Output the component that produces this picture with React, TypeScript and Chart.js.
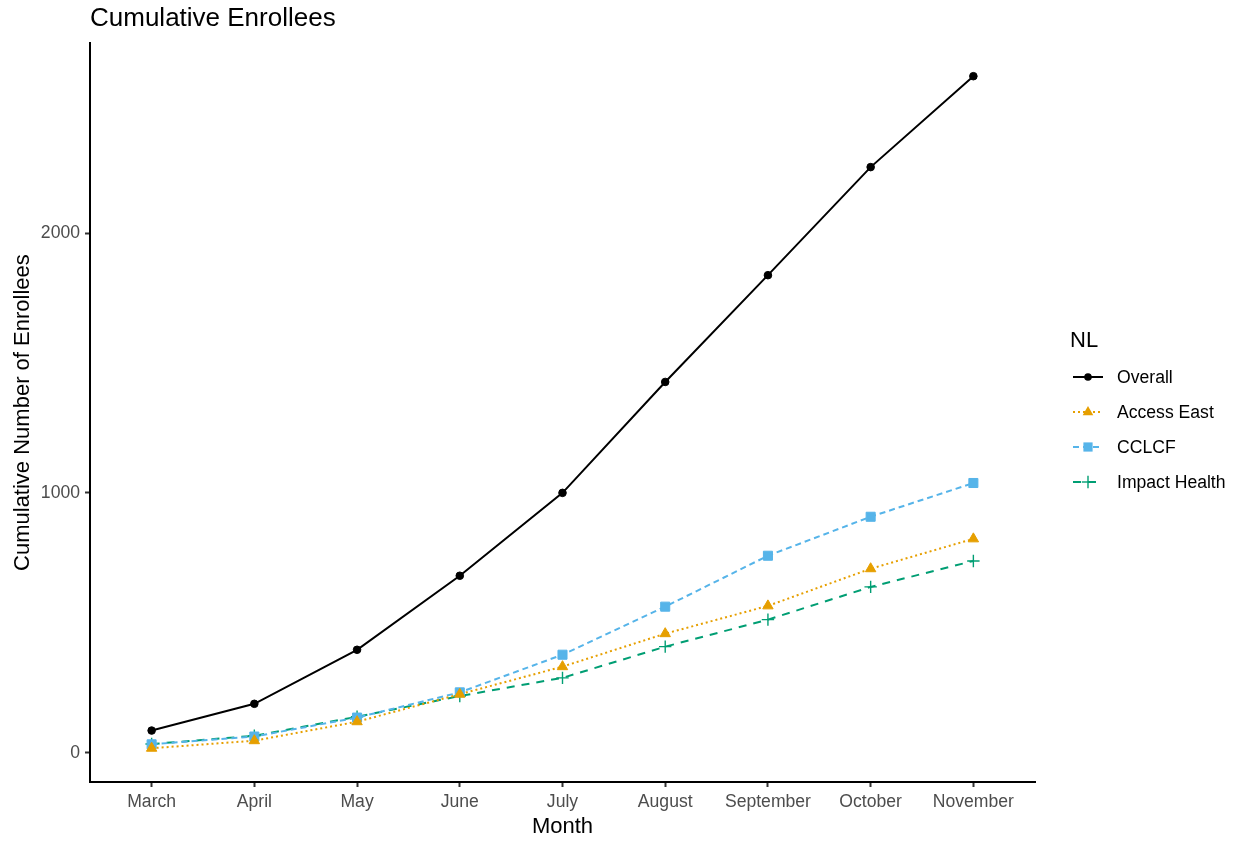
import React, { useEffect, useRef } from "react";
import { Chart, registerables } from "chart.js";

Chart.register(...registerables);

const months = ["March", "April", "May", "June", "July", "August", "September", "October", "November"];
const overall = [85, 188, 396, 681, 1000, 1427, 1838, 2254, 2604];
const accessEast = [17, 46, 119, 225, 331, 458, 565, 708, 823];
const cclcf = [32, 62, 135, 232, 377, 562, 758, 908, 1038];
const impactHealth = [33, 65, 138, 218, 288, 408, 512, 638, 738];
const yTicks = [0, 1000, 2000];

const FONT = "'Liberation Sans', Arial, Helvetica, sans-serif";

type SeriesDef = {
  label: string;
  values: number[];
  color: string;
  dash: number[];
  pointStyle: string;
  radius: number;
  pointBorder: number;
};

const series: SeriesDef[] = [
  { label: "Overall", values: overall, color: "#000000", dash: [], pointStyle: "circle", radius: 3.8, pointBorder: 1 },
  { label: "Access East", values: accessEast, color: "#E69F00", dash: [2, 3], pointStyle: "triangle", radius: 6, pointBorder: 1 },
  { label: "CCLCF", values: cclcf, color: "#56B4E9", dash: [6, 4], pointStyle: "rect", radius: 6.4, pointBorder: 1 },
  { label: "Impact Health", values: impactHealth, color: "#009E73", dash: [8, 7], pointStyle: "cross", radius: 6.2, pointBorder: 1.4 },
];

function LegendMarker({ s }: { s: SeriesDef }) {
  const cx = 15;
  const cy = 10;
  let marker: React.ReactNode = null;
  if (s.pointStyle === "circle") marker = <circle cx={cx} cy={cy} r={3.8} fill={s.color} />;
  else if (s.pointStyle === "triangle")
    marker = <polygon points={`${cx},${cy - 6} ${cx - 5.3},${cy + 3.2} ${cx + 5.3},${cy + 3.2}`} fill={s.color} />;
  else if (s.pointStyle === "rect") marker = <rect x={cx - 4.6} y={cy - 4.6} width={9.2} height={9.2} fill={s.color} />;
  else
    marker = (
      <g stroke={s.color} strokeWidth={1.4}>
        <line x1={cx - 6.2} y1={cy} x2={cx + 6.2} y2={cy} />
        <line x1={cx} y1={cy - 6.2} x2={cx} y2={cy + 6.2} />
      </g>
    );
  return (
    <svg width={30} height={20} style={{ display: "block" }}>
      <line
        x1={0}
        y1={cy}
        x2={30}
        y2={cy}
        stroke={s.color}
        strokeWidth={2}
        strokeDasharray={s.dash.length ? s.dash.join(",") : undefined}
      />
      {marker}
    </svg>
  );
}

export default function App() {
  const canvasRef = useRef<HTMLCanvasElement | null>(null);

  useEffect(() => {
    if (!canvasRef.current) return;
    const chart = new Chart(canvasRef.current, {
      type: "line",
      data: {
        datasets: series.map((s) => ({
          label: s.label,
          data: s.values.map((v, i) => ({ x: i, y: v })),
          borderColor: s.color,
          backgroundColor: s.color,
          borderWidth: 2,
          borderDash: s.dash,
          pointStyle: s.pointStyle as any,
          pointRadius: s.radius,
          pointBorderWidth: s.pointBorder,
          pointBorderColor: s.color,
          pointBackgroundColor: s.color,
          tension: 0,
          fill: false,
        })),
      },
      options: {
        responsive: false,
        animation: false,
        devicePixelRatio: 1,
        layout: { padding: { left: 0, right: 203, top: 0, bottom: 0 } },
        plugins: {
          legend: { display: false },
          tooltip: { enabled: false },
          title: {
            display: true,
            text: "Cumulative Enrollees",
            align: "start",
            fullSize: false,
            color: "#000000",
            font: { family: FONT, size: 26, weight: "normal" },
            padding: { top: 3, bottom: 9 },
          },
        },
        scales: {
          x: {
            type: "linear",
            min: -0.6,
            max: 8.6,
            afterBuildTicks: (scale: any) => {
              scale.ticks = months.map((_, i) => ({ value: i }));
            },
            afterFit: (scale: any) => {
              scale.height = 59;
            },
            ticks: {
              autoSkip: false,
              maxRotation: 0,
              padding: 5,
              color: "#4D4D4D",
              font: { family: FONT, size: 17.6 },
              callback: (v: any) => months[Math.round(Number(v))] ?? "",
            },
            grid: {
              display: true,
              drawOnChartArea: false,
              drawTicks: true,
              tickLength: 5,
              tickWidth: 2,
              tickColor: "#333333",
            },
            border: { display: true, color: "#000000", width: 2 },
            title: {
              display: true,
              text: "Month",
              color: "#000000",
              font: { family: FONT, size: 22 },
              padding: { top: 6, bottom: 1 },
            },
          },
          y: {
            type: "linear",
            min: -113,
            max: 2731,
            afterBuildTicks: (scale: any) => {
              scale.ticks = yTicks.map((v) => ({ value: v }));
            },
            afterFit: (scale: any) => {
              scale.width = 90;
            },
            ticks: {
              padding: 5,
              color: "#4D4D4D",
              font: { family: FONT, size: 17.6 },
              callback: (v: any) => String(v),
            },
            grid: {
              display: true,
              drawOnChartArea: false,
              drawTicks: true,
              tickLength: 5,
              tickWidth: 2,
              tickColor: "#333333",
            },
            border: { display: true, color: "#000000", width: 2 },
            title: {
              display: true,
              text: "Cumulative Number of Enrollees",
              color: "#000000",
              font: { family: FONT, size: 22 },
              padding: { top: 10, bottom: 4 },
            },
          },
        },
      } as any,
    });
    return () => chart.destroy();
  }, []);

  const rowYs = [377, 412, 447, 482];

  return (
    <div style={{ position: "absolute", left: 0, top: 0, width: 1238, height: 841, background: "#ffffff", fontFamily: FONT }}>
      <canvas ref={canvasRef} width={1238} height={841} style={{ width: 1238, height: 841, display: "block" }} />
      <div
        style={{
          position: "absolute",
          left: 1070,
          top: 340 - 13,
          fontSize: 22,
          lineHeight: "26px",
          color: "#000000",
        }}
      >
        NL
      </div>
      {series.map((s, i) => (
        <div key={s.label} style={{ position: "absolute", left: 0, top: rowYs[i] - 10, height: 20 }}>
          <div style={{ position: "absolute", left: 1073, top: 0 }}>
            <LegendMarker s={s} />
          </div>
          <div
            style={{
              position: "absolute",
              left: 1117,
              top: 0,
              fontSize: 17.6,
              lineHeight: "20px",
              whiteSpace: "nowrap",
              color: "#000000",
            }}
          >
            {s.label}
          </div>
        </div>
      ))}
    </div>
  );
}
